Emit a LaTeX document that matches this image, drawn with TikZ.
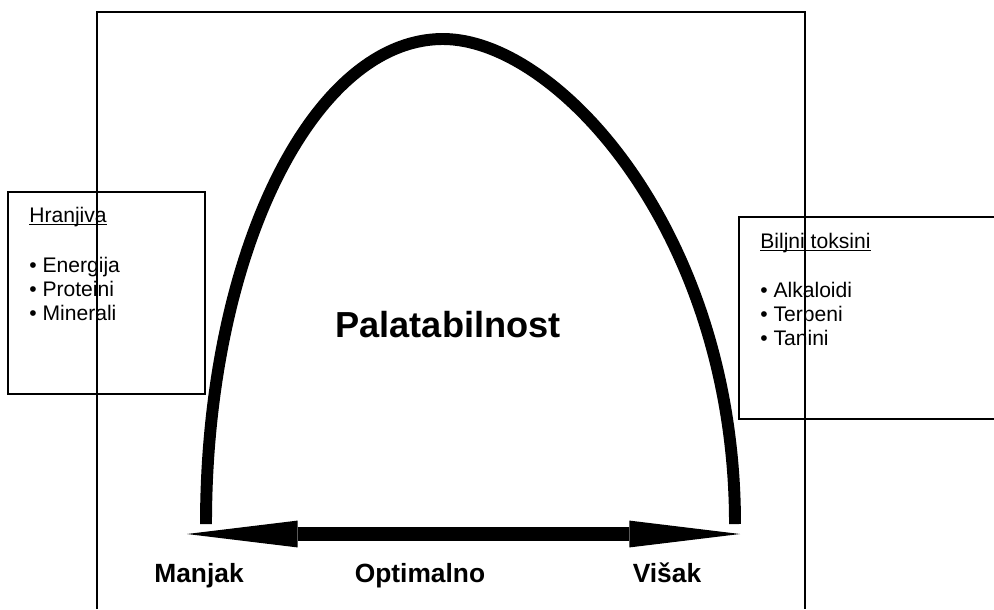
\documentclass[tikz,border=0pt]{standalone}
\usepackage{fontspec}
\setmainfont{Liberation Sans}
\usetikzlibrary{arrows.meta,positioning}
\newcommand{\boxhead}[1]{\setbox0\hbox{#1}\rlap{\rule[-1.4pt]{\wd0}{0.6pt}}\box0}

\begin{document}
\begin{tikzpicture}[
  x=0.02cm, y=-0.02cm,
  frame/.style={draw,line width=1.2pt},
  listbox/.style={draw,line width=0.9pt,minimum width=3.94cm,minimum height=4.04cm,inner sep=0pt},
  listtext/.style={anchor=north west,inner sep=0pt,align=left,font=\fontsize{12}{13.6}\selectfont},
  axislabel/.style={anchor=base,inner sep=0pt,font=\fontsize{15}{18}\selectfont\bfseries},
  bigtip/.tip={Triangle[length=63pt,width=15.3pt,line width=0pt]}
]
  \useasboundingbox (0,0) rectangle (994,609);
  % outer frame, open at the bottom
  \coordinate (fbl) at (97,609);
  \coordinate (ftl) at (97,12);
  \coordinate (ftr) at (805,12);
  \coordinate (fbr) at (805,609);
  \draw[frame] (fbl) -- (ftl) -- (ftr) -- (fbr);
  % nutrient box
  \node[listbox] (hranjiva) at (106.5,293) {};
  \node[listtext] (hranjivatxt) at (29,207) {\boxhead{Hranjiva}\\[14.7pt]%
    • Energija\\• Proteini\\• Minerali};
  % toxin box, cut off at the right edge
  \coordinate (tbr) at (994,419);
  \coordinate (tbl) at (739,419);
  \coordinate (ttl) at (739,217);
  \coordinate (ttr) at (994,217);
  \draw[line width=0.9pt] (tbr) -- (tbl) -- (ttl) -- (ttr);
  \node[listtext] (toksinitxt) at (760,233) {\boxhead{Biljni toksini}\\[14.2pt]%
    • Alkaloidi\\• Terpeni\\• Tanini};
  % palatability curve
  \coordinate (cl) at (206,524);
  \coordinate (ctop) at (443,39);
  \coordinate (cr) at (735,524);
  \draw[line width=6.8pt,line cap=butt]
    (cl) .. controls (206,256) and (312,39) .. (ctop)
         .. controls (558,39) and (735,234) .. (cr);
  \node[anchor=base,inner sep=0pt,font=\fontsize{20.6}{24}\selectfont\bfseries] (palat) at (448,337) {Palatabilnost};
  % double arrow
  \coordinate (lo) at (187,534);
  \coordinate (hi) at (740,534);
  \draw[line width=8.5pt,bigtip-bigtip] (lo) -- (hi);
  \node[axislabel] (manjak) at (199,582) {Manjak};
  \node[axislabel] (optimalno) at (420,582) {Optimalno};
  \node[axislabel] (visak) at (667,582) {Višak};
\end{tikzpicture}
\end{document}
